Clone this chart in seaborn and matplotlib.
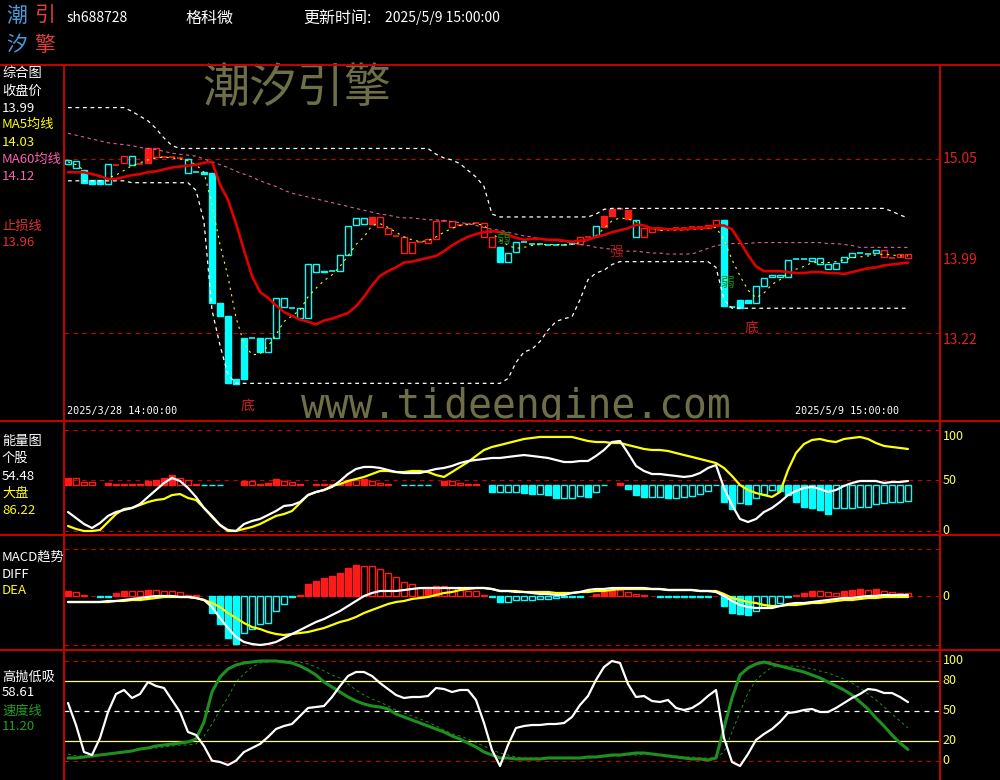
import numpy as np
import matplotlib
matplotlib.use("Agg")
import matplotlib.pyplot as plt
import matplotlib.transforms as mtransforms
from matplotlib.lines import Line2D
import seaborn as sns

sns.set_theme(style="dark", rc={"axes.facecolor": "black", "figure.facecolor": "black"})
plt.rcParams["font.family"] = ["Noto Sans CJK SC", "DejaVu Sans"]
plt.rcParams["axes.unicode_minus"] = False

nan = np.nan

# 60分钟K线 (开盘/收盘), 颜色状态 r=强 c=弱
opens = [15.00, 14.95, 14.93, 14.83, 14.83, 14.79, 14.99, 15.01, 14.99, 15.00,
         15.16, 15.07, 15.07, 15.07, 15.06, 14.90, 14.91, 14.91, 14.90, 13.54,
         13.40, 12.74, 13.17, 13.17, 13.17, 13.02, 13.17, 13.49, 13.48, 13.38,
         13.38, 13.86, 13.86, 13.87, 13.87, 14.04, 14.36, 14.37, 14.44, 14.33,
         14.26, 14.24, 14.06, 14.06, 14.18, 14.17, 14.21, 14.40, 14.33, 14.36,
         14.37, 14.38, 14.23, 14.12, 14.12, 13.97, 14.07, 14.18, 14.16, 14.16,
         14.15, 14.15, 14.15, 14.16, 14.16, 14.23, 14.24, 14.45, 14.52, 14.52,
         14.51, 14.23, 14.23, 14.28, 14.30, 14.31, 14.32, 14.32, 14.33, 14.33,
         14.32, 14.36, 14.41, 13.49, 13.57, 13.57, 13.54, 13.71, 13.81, 13.81,
         13.81, 14.00, 14.00, 13.98, 13.95, 13.89, 13.89, 13.97, 14.02, 14.06,
         14.05, 14.06, 14.02, 14.01, 14.02, 14.01]
closes = [15.04, 15.03, 14.80, 14.79, 14.79, 15.00, 14.99, 15.08, 15.08, 15.00,
          15.01, 15.16, 15.07, 15.07, 15.06, 15.05, 14.91, 14.89, 13.54, 13.40,
          12.69, 12.68, 12.74, 13.17, 13.02, 13.17, 13.59, 13.59, 13.48, 13.48,
          13.94, 13.94, 13.87, 13.87, 14.04, 14.35, 14.43, 14.43, 14.37, 14.44,
          14.32, 14.24, 14.23, 14.18, 14.18, 14.21, 14.40, 14.40, 14.40, 14.36,
          14.37, 14.38, 14.38, 14.23, 13.97, 14.06, 14.18, 14.18, 14.16, 14.16,
          14.15, 14.15, 14.15, 14.16, 14.23, 14.23, 14.34, 14.33, 14.45, 14.52,
          14.42, 14.41, 14.32, 14.32, 14.30, 14.31, 14.32, 14.32, 14.33, 14.33,
          14.36, 14.41, 13.50, 13.49, 13.48, 13.54, 13.71, 13.80, 13.83, 13.83,
          13.99, 14.00, 14.00, 14.01, 14.01, 13.94, 13.96, 14.02, 14.06, 14.06,
          14.05, 14.09, 14.09, 14.01, 14.05, 14.05]
trend = ("ccccccrrcr" "rrrrrccccc" "cccccccccc" "ccccccccrr" "rrrrrrrrrr"
         "rrrrcccccc" "ccccrrcrrr" "rcrrrrrrrr" "rrcccccccc" "cccccccccc" "ccrrrr")

stop_line = [14.91, 14.91, 14.91, 14.89, 14.87, 14.84, 14.84, 14.86, 14.88, 14.89,
             14.91, 14.92, 14.94, 14.96, 14.97, 14.98, 14.99, 15.01, 15.02, 14.78,
             14.62, 14.37, 14.09, 13.82, 13.65, 13.59, 13.51, 13.44, 13.40, 13.36,
             13.34, 13.31, 13.35, 13.37, 13.40, 13.43, 13.50, 13.60, 13.72, 13.82,
             13.87, 13.91, 13.96, 13.97, 13.99, 14.01, 14.03, 14.08, 14.14, 14.19,
             14.23, 14.26, 14.28, 14.29, 14.28, 14.25, 14.22, 14.20, 14.21, 14.21,
             14.20, 14.20, 14.19, 14.18, 14.19, 14.20, 14.23, 14.25, 14.28, 14.30,
             14.32, 14.36, 14.35, 14.32, 14.32, 14.31, 14.31, 14.31, 14.32, 14.32,
             14.33, 14.35, 14.35, 14.31, 14.18, 14.04, 13.92, 13.87, 13.87, 13.87,
             13.86, 13.85, 13.85, 13.86, 13.86, 13.85, 13.85, 13.84, 13.86, 13.88,
             13.90, 13.91, 13.93, 13.94, 13.95, 13.96]
ma5 = [15.02, 14.99, 14.93, 14.89, 14.86, 14.85, 14.88, 14.93, 14.98, 15.01,
       15.04, 15.06, 15.07, 15.06, 15.05, 15.03, 14.99, 14.91, 14.57, 14.15,
       13.81, 13.38, 13.11, 12.99, 13.00, 13.08, 13.20, 13.34, 13.40, 13.46,
       13.60, 13.69, 13.77, 13.83, 13.92, 14.03, 14.15, 14.23, 14.35, 14.37,
       14.33, 14.28, 14.23, 14.20, 14.18, 14.19, 14.23, 14.28, 14.32, 14.35,
       14.36, 14.37, 14.35, 14.27, 14.20, 14.14, 14.11, 14.12, 14.14, 14.15,
       14.15, 14.15, 14.15, 14.15, 14.17, 14.20, 14.24, 14.32, 14.40, 14.43,
       14.42, 14.39, 14.35, 14.32, 14.30, 14.30, 14.30, 14.30, 14.31, 14.31,
       14.32, 14.33, 14.20, 13.99, 13.82, 13.67, 13.59, 13.64, 13.73, 13.78,
       13.85, 13.89, 13.92, 13.96, 13.96, 13.96, 13.97, 13.99, 14.01, 14.02,
       14.03, 14.04, 14.05, 14.04, 14.03, 14.03]
ma60 = [15.32, 15.30, 15.28, 15.26, 15.24, 15.22, 15.21, 15.20, 15.19, 15.17,
        15.16, 15.15, 15.13, 15.11, 15.10, 15.09, 15.08, 15.05, 15.02, 14.99,
        14.96, 14.92, 14.89, 14.86, 14.82, 14.79, 14.76, 14.72, 14.69, 14.67,
        14.65, 14.63, 14.61, 14.59, 14.57, 14.55, 14.53, 14.51, 14.49, 14.47,
        14.46, 14.44, 14.43, 14.43, 14.42, 14.41, 14.41, 14.40, 14.39, 14.38,
        14.37, 14.35, 14.33, 14.31, 14.30, 14.28, 14.26, 14.24, 14.23, 14.21,
        14.20, 14.19, 14.18, 14.17, 14.15, 14.14, 14.12, 14.11, 14.10, 14.09,
        14.08, 14.08, 14.07, 14.06, 14.06, 14.05, 14.05, 14.05, 14.05, 14.08,
        14.11, 14.14, 14.15, 14.16, 14.16, 14.16, 14.17, 14.17, 14.17, 14.17,
        14.17, 14.17, 14.17, 14.17, 14.17, 14.16, 14.16, 14.15, 14.14, 14.12,
        14.12, 14.12, 14.12, 14.12, 14.12, 14.12]
upper_band = [15.59, 15.59, 15.59, 15.59, 15.59, 15.59, 15.59, 15.59, 15.55, 15.50,
              15.45, 15.37, 15.27, 15.19, 15.16, 15.16, 15.16, 15.16, 15.16, 15.16,
              15.16, 15.16, 15.16, 15.16, 15.16, 15.16, 15.16, 15.16, 15.16, 15.16,
              15.16, 15.16, 15.16, 15.16, 15.16, 15.16, 15.16, 15.16, 15.16, 15.16,
              15.16, 15.16, 15.16, 15.16, 15.16, 15.16, 15.10, 15.06, 15.04, 15.00,
              14.93, 14.86, 14.76, 14.47, 14.44, 14.44, 14.44, 14.44, 14.44, 14.44,
              14.44, 14.44, 14.44, 14.44, 14.44, 14.44, 14.47, 14.52, 14.53, 14.53,
              14.53, 14.53, 14.53, 14.53, 14.53, 14.53, 14.53, 14.53, 14.53, 14.53,
              14.53, 14.53, 14.53, 14.53, 14.53, 14.53, 14.53, 14.53, 14.53, 14.53,
              14.53, 14.53, 14.53, 14.53, 14.53, 14.53, 14.53, 14.53, 14.53, 14.53,
              14.53, 14.53, 14.53, 14.50, 14.46, 14.43]
lower_band = [14.82, 14.82, 14.82, 14.82, 14.82, 14.82, 14.82, 14.82, 14.80, 14.80,
              14.80, 14.80, 14.80, 14.80, 14.80, 14.80, 14.72, 14.39, 13.46, 13.09,
              12.78, 12.69, 12.69, 12.69, 12.69, 12.69, 12.69, 12.69, 12.69, 12.69,
              12.69, 12.69, 12.69, 12.69, 12.69, 12.69, 12.69, 12.69, 12.69, 12.69,
              12.69, 12.69, 12.69, 12.69, 12.69, 12.69, 12.69, 12.69, 12.69, 12.69,
              12.69, 12.69, 12.69, 12.69, 12.69, 12.74, 12.91, 13.02, 13.05, 13.13,
              13.25, 13.34, 13.37, 13.39, 13.57, 13.78, 13.85, 13.88, 13.94, 13.97,
              13.97, 13.97, 13.97, 13.97, 13.97, 13.97, 13.97, 13.97, 13.97, 13.97,
              13.97, 13.91, 13.57, 13.48, 13.48, 13.48, 13.48, 13.48, 13.48, 13.48,
              13.48, 13.48, 13.48, 13.48, 13.48, 13.48, 13.48, 13.48, 13.48, 13.48,
              13.48, 13.48, 13.48, 13.48, 13.48, 13.48]

# 能量图
energy_stock = [18.8, 12.9, 6.9, 3.0, 7.9, 14.9, 18.8, 20.8, 22.8, 26.7,
                33.7, 40.6, 47.5, 52.5, 49.5, 42.6, 33.7, 22.8, 14.9, 5.9,
                1.0, 0.0, 6.9, 9.9, 11.9, 15.8, 19.8, 24.8, 25.7, 28.7,
                35.6, 38.6, 40.6, 43.6, 49.5, 56.4, 61.4, 63.4, 63.4, 62.4,
                60.4, 58.4, 57.4, 57.4, 57.4, 59.4, 61.4, 62.4, 64.4, 67.3,
                69.3, 70.3, 71.3, 72.3, 72.3, 73.3, 74.3, 75.2, 74.3, 73.3,
                72.3, 70.3, 68.3, 68.3, 69.3, 69.3, 74.3, 80.2, 88.1, 89.1,
                77.2, 64.4, 59.4, 56.4, 56.4, 55.4, 54.5, 53.5, 54.5, 57.4,
                62.4, 65.3, 42.6, 25.7, 11.9, 8.9, 11.9, 18.8, 22.8, 28.7,
                35.6, 39.6, 42.6, 43.6, 41.6, 38.6, 40.6, 44.6, 47.5, 49.5,
                49.5, 49.5, 47.5, 48.5, 48.5, 49.5]
energy_market = [5.0, 2.0, 0.0, 0.0, 1.0, 8.9, 16.8, 21.8, 22.8, 25.7,
                 28.7, 30.7, 31.7, 35.6, 36.6, 32.7, 30.7, 22.8, 13.9, 5.9,
                 0.0, 0.0, 2.0, 4.0, 6.9, 10.9, 14.9, 16.8, 19.8, 27.7,
                 35.6, 38.6, 40.6, 44.6, 46.5, 49.5, 51.5, 53.5, 56.4, 59.4,
                 59.4, 58.4, 58.4, 59.4, 59.4, 58.4, 55.4, 53.5, 58.4, 63.4,
                 68.3, 74.3, 80.2, 83.2, 85.1, 87.1, 89.1, 91.1, 92.1, 93.1,
                 93.1, 93.1, 93.1, 93.1, 91.1, 89.1, 88.1, 88.1, 87.1, 87.1,
                 85.1, 83.2, 81.2, 80.2, 80.2, 79.2, 77.2, 75.2, 73.3, 71.3,
                 69.3, 67.3, 62.4, 54.5, 45.5, 40.6, 37.6, 35.6, 33.7, 38.6,
                 60.4, 77.2, 86.1, 90.1, 91.1, 89.1, 88.1, 91.1, 92.1, 93.1,
                 91.1, 87.1, 84.2, 83.2, 82.2, 81.2]
energy_bar = [52.5, 52.5, 48.5, 48.5, nan, 47.5, 46.5, 46.5, 46.5, 46.5,
              49.5, 50.5, 52.5, 55.4, 52.5, 50.5, 46.5, 45.5, 45.5, 45.5,
              nan, nan, 49.5, 49.5, 46.5, 47.5, 51.5, 49.5, 48.5, 46.5,
              nan, 46.5, 46.5, 46.5, 47.0, 50.5, 50.5, 51.5, 49.5, 47.5,
              46.5, nan, 45.5, 45.5, 45.5, 45.5, nan, 49.5, 49.5, 47.5,
              46.5, 46.5, nan, 39.0, 39.0, 39.0, 39.0, 37.3, 36.3, 36.3,
              35.6, 33.0, 33.0, 33.0, 35.0, 34.0, 38.3, 45.5, nan, 47.5,
              41.6, 35.6, 34.0, 34.0, 34.0, 33.0, 33.0, 34.0, 35.0, 36.3,
              39.6, 45.5, 29.0, 21.8, 27.4, 26.4, 32.4, 36.3, 40.6, 39.6,
              35.6, 28.4, 24.0, 23.1, 20.8, 16.8, 22.4, 22.4, 23.1, 24.0,
              24.0, 26.4, 27.4, 28.4, 28.4, 29.7]
ENERGY_BASE = 46

# MACD趋势
diff = [-0.030, -0.030, -0.030, -0.030, -0.030, -0.025, -0.025, -0.020, -0.015, -0.010,
        -0.005, 0.000, 0.000, 0.000, -0.005, -0.005, -0.010, -0.020, -0.055, -0.110,
        -0.160, -0.205, -0.230, -0.240, -0.245, -0.240, -0.230, -0.210, -0.190, -0.170,
        -0.150, -0.130, -0.115, -0.095, -0.075, -0.050, -0.025, 0.000, 0.015, 0.025,
        0.025, 0.025, 0.030, 0.035, 0.040, 0.040, 0.040, 0.040, 0.040, 0.040,
        0.040, 0.040, 0.040, 0.035, 0.025, 0.025, 0.020, 0.020, 0.015, 0.010,
        0.010, 0.005, 0.005, 0.015, 0.020, 0.030, 0.035, 0.035, 0.040, 0.040,
        0.040, 0.040, 0.040, 0.035, 0.035, 0.030, 0.030, 0.030, 0.030, 0.025,
        0.025, 0.020, 0.000, -0.025, -0.045, -0.055, -0.060, -0.060, -0.060, -0.050,
        -0.040, -0.035, -0.035, -0.030, -0.025, -0.020, -0.015, -0.010, -0.010, -0.005,
        0.000, 0.000, 0.005, 0.005, 0.005, 0.005]
dea = [-0.030, -0.030, -0.030, -0.030, -0.030, -0.030, -0.025, -0.025, -0.020, -0.020,
       -0.015, -0.010, -0.005, -0.005, -0.005, -0.005, -0.010, -0.020, -0.035, -0.055,
       -0.085, -0.110, -0.135, -0.155, -0.165, -0.180, -0.190, -0.195, -0.190, -0.185,
       -0.180, -0.170, -0.160, -0.145, -0.130, -0.120, -0.105, -0.085, -0.070, -0.055,
       -0.040, -0.030, -0.025, -0.015, -0.010, -0.005, 0.005, 0.015, 0.020, 0.030,
       0.035, 0.040, 0.040, 0.035, 0.025, 0.025, 0.025, 0.020, 0.020, 0.020,
       0.020, 0.015, 0.015, 0.015, 0.020, 0.020, 0.025, 0.025, 0.030, 0.035,
       0.035, 0.035, 0.035, 0.035, 0.035, 0.030, 0.030, 0.030, 0.030, 0.025,
       0.025, 0.025, 0.010, -0.010, -0.020, -0.030, -0.035, -0.045, -0.050, -0.050,
       -0.045, -0.045, -0.040, -0.035, -0.035, -0.030, -0.025, -0.020, -0.020, -0.015,
       -0.010, -0.010, -0.005, -0.005, -0.005, -0.005]
macd_bar = [0.025, 0.020, 0.005, nan, -0.005, -0.005, 0.015, 0.025, 0.025, 0.025,
            0.030, 0.030, 0.025, 0.025, 0.020, 0.005, 0.005, nan, -0.085, -0.140,
            -0.210, -0.240, -0.185, -0.165, -0.140, -0.135, -0.075, -0.040, -0.005, 0.005,
            0.060, 0.075, 0.090, 0.100, 0.115, 0.140, 0.155, 0.150, 0.150, 0.135,
            0.115, 0.095, 0.070, 0.060, 0.040, 0.045, 0.050, 0.050, 0.040, 0.030,
            0.025, 0.025, 0.005, -0.005, -0.030, -0.030, -0.020, -0.020, -0.020, -0.015,
            -0.015, -0.012, -0.005, -0.005, -0.005, nan, 0.010, 0.022, 0.030, 0.030,
            0.018, 0.010, 0.005, nan, -0.005, -0.005, -0.005, -0.005, -0.005, -0.005,
            -0.005, nan, -0.050, -0.085, -0.090, -0.095, -0.075, -0.055, -0.050, -0.035,
            -0.005, 0.005, 0.017, 0.025, 0.025, 0.022, 0.017, 0.025, 0.028, 0.033,
            0.028, 0.033, 0.025, 0.022, 0.017, 0.017]

# 高抛低吸
gpdx = [57.7, 35.7, 8.7, 5.7, 22.7, 48.7, 66.7, 70.7, 62.7, 66.7,
        78.7, 74.7, 72.7, 60.7, 48.7, 28.7, 25.7, 14.7, 0.0, -1.3,
        -4.3, 0.0, 8.7, 12.7, 16.7, 23.7, 31.7, 34.7, 36.7, 44.7,
        52.7, 53.7, 54.7, 63.7, 74.7, 84.7, 88.7, 88.7, 84.7, 77.7,
        71.7, 65.7, 62.7, 63.7, 63.7, 64.7, 72.7, 71.7, 68.7, 70.7,
        70.7, 60.7, 37.7, 10.7, -5.3, 15.7, 32.7, 34.7, 35.7, 35.7,
        36.7, 36.7, 37.7, 43.7, 55.7, 64.7, 80.7, 93.7, 99.7, 97.7,
        76.7, 63.7, 64.7, 59.7, 58.7, 60.7, 52.7, 50.7, 52.7, 57.7,
        64.7, 70.7, 22.7, -1.3, -5.3, 6.7, 20.7, 26.7, 31.7, 38.7,
        47.7, 48.7, 50.7, 51.7, 48.7, 48.7, 52.7, 57.7, 62.7, 66.7,
        71.7, 70.7, 67.7, 67.7, 63.7, 58.6]
speed = [2.7, 2.7, 3.7, 4.7, 5.7, 6.7, 7.7, 8.7, 9.7, 11.7,
         12.7, 14.7, 15.7, 16.7, 17.7, 18.7, 21.7, 38.7, 68.7, 83.7,
         91.7, 95.7, 97.7, 98.7, 99.7, 99.7, 99.7, 98.7, 97.7, 94.7,
         90.7, 85.7, 78.7, 73.7, 68.7, 63.7, 59.7, 56.7, 54.7, 53.7,
         51.7, 46.7, 43.7, 40.7, 37.7, 34.7, 31.7, 28.7, 24.7, 21.7,
         17.7, 13.7, 8.7, 5.7, 2.7, 2.7, 1.7, 1.7, 1.7, 1.7,
         2.7, 2.7, 2.7, 2.7, 2.7, 3.7, 3.7, 4.7, 5.7, 5.7,
         6.7, 7.7, 7.7, 6.7, 5.7, 4.7, 3.7, 2.7, 1.7, 1.7,
         0.7, 2.7, 32.7, 62.7, 85.7, 92.7, 96.7, 98.7, 96.7, 94.7,
         92.7, 90.7, 88.7, 85.7, 82.7, 78.7, 74.7, 70.7, 65.7, 58.7,
         51.7, 42.7, 34.7, 25.7, 17.7, 11.2]
speed_signal = [6.7, 4.7, 4.7, 5.7, 5.7, 6.7, 7.7, 8.7, 9.7, 10.7,
                11.7, 12.7, 13.7, 14.7, 15.7, 15.7, 16.7, 24.7, 36.7, 50.7,
                63.7, 78.7, 86.7, 93.7, 97.7, 98.7, 99.7, 99.7, 99.7, 98.7,
                96.7, 93.7, 89.7, 85.7, 82.7, 76.7, 70.7, 65.7, 61.7, 58.7,
                54.7, 50.7, 47.7, 44.7, 41.7, 38.7, 34.7, 30.7, 26.7, 24.7,
                21.7, 17.7, 14.7, 10.7, 7.7, 5.7, 3.7, 2.7, 2.7, 2.7,
                2.7, 2.7, 2.7, 2.7, 2.7, 2.7, 3.7, 3.7, 4.7, 4.7,
                5.7, 5.7, 6.7, 6.7, 5.7, 5.7, 4.7, 3.7, 3.7, 2.7,
                2.7, 2.7, 8.7, 28.7, 48.7, 67.7, 80.7, 87.7, 93.7, 94.7,
                94.7, 94.7, 93.7, 91.7, 89.7, 87.7, 84.7, 81.7, 77.7, 72.7,
                66.7, 60.7, 53.7, 46.7, 39.7, 32.7]

price_marks = [15.05, 13.22]
idx = np.arange(len(opens))

# 颜色
RED = "#ff1a1a"
DARKRED = "#c80000"
CYAN = "#00ffff"
YELLOW = "#ffff00"
PINK = "#d8609c"
GREEN = "#1f8f1f"
OLIVE = "#6e6e48"

W, H = 1000, 780
fig = plt.figure(figsize=(W / 100, H / 100), dpi=100, facecolor="black")


def panel(top, bottom):
    ax = fig.add_axes([64 / W, 1 - bottom / H, 876 / W, (bottom - top) / H])
    ax.set_facecolor("black")
    return ax


def finish(ax, ylim):
    ax.set_xlim(-0.5, 109)
    ax.set_ylim(*ylim)
    ax.set_xticks([])
    ax.set_yticks([])
    ax.set_xlabel("")
    ax.set_ylabel("")
    ax.grid(False)
    for s in ax.spines.values():
        s.set_visible(False)


def ftext(x, y, s, **kw):
    kw.setdefault("va", "center")
    fig.text(x / W, 1 - y / H, s, **kw)


def rlabel(ax, val, s, color, va="center", size=9):
    tr = mtransforms.blended_transform_factory(ax.transAxes, ax.transData)
    ax.text(1.003, val, s, transform=tr, color=color, fontsize=size,
            va=va, ha="left", clip_on=False)


def hist_bars(ax, vals, base, up_col, dn_col):
    prev = 0.0
    for i, v in enumerate(vals):
        if np.isnan(v):
            prev = 0.0
            continue
        h = v - base
        col = up_col if h > 0 else dn_col
        filled = abs(h) > prev
        ax.bar(i, h, bottom=base, width=0.72, color=col if filled else "none",
               edgecolor=col, linewidth=1, zorder=2)
        prev = abs(h)


dash_red = dict(color=DARKRED, lw=0.8, ls=(0, (4, 4)))

# ---------------- 综合图 ----------------
ax_k = panel(65, 421)
ax_k.text(297 / W, 1 - 89 / H, "潮汐引擎", transform=fig.transFigure, fontsize=34,
          color=OLIVE, ha="center", va="center", zorder=0.5)
ax_k.text(516 / W, 1 - 407 / H, "www.tideengine.com", transform=fig.transFigure,
          fontsize=28.5, color=OLIVE, ha="center", va="center", zorder=0.5,
          family="DejaVu Sans Mono")
for p in price_marks:
    ax_k.axhline(p, **dash_red, zorder=1)

for i, (o, c, t) in enumerate(zip(opens, closes, trend)):
    col = RED if t == "r" else CYAN
    if abs(c - o) < 1e-9:
        ax_k.hlines(o, i - 0.36, i + 0.36, color=col, lw=1.2, zorder=2)
    else:
        filled = c < o
        ax_k.bar(i, c - o, bottom=o, width=0.72, color=col if filled else "none",
                 edgecolor=col, linewidth=1, zorder=2)

sns.lineplot(x=idx, y=upper_band, ax=ax_k, color="white", linewidth=0.9,
             linestyle=(0, (3, 3)), zorder=3)
sns.lineplot(x=idx, y=lower_band, ax=ax_k, color="white", linewidth=0.9,
             linestyle=(0, (3, 3)), zorder=3)
sns.lineplot(x=idx, y=ma60, ax=ax_k, color=PINK, linewidth=0.8,
             linestyle=(0, (3, 3)), zorder=3)
sns.lineplot(x=idx, y=ma5, ax=ax_k, color=YELLOW, linewidth=0.8,
             linestyle=(0, (2, 4)), zorder=3)
sns.lineplot(x=idx, y=stop_line, ax=ax_k, color="#e00000", linewidth=1.9, zorder=4)

ax_k.text(22.4, 12.45, "底", color="#d02020", fontsize=10, ha="center", va="center", zorder=5)
ax_k.text(85.4, 13.27, "底", color="#d02020", fontsize=10, ha="center", va="center", zorder=5)
ax_k.text(68.5, 14.07, "强", color="#b01818", fontsize=10, ha="center", va="center", zorder=5)
ax_k.text(54.4, 14.21, "弱", color="#118811", fontsize=10, ha="center", va="center", zorder=5)
ax_k.text(82.4, 13.75, "弱", color="#118811", fontsize=10, ha="center", va="center", zorder=5)

rlabel(ax_k, 15.05, "15.05", "#e02020", size=10)
rlabel(ax_k, 13.99, "13.99", "#e02020", size=10)
rlabel(ax_k, 13.22, "13.22", "#e02020", va="top", size=10)
finish(ax_k, (12.294, 16.038))

# ---------------- 能量图 ----------------
ax_e = panel(421, 535)
for v in (100, 50, 0):
    ax_e.axhline(v, **dash_red, zorder=1)
hist_bars(ax_e, energy_bar, ENERGY_BASE, RED, CYAN)
sns.lineplot(x=idx, y=energy_market, ax=ax_e, color=YELLOW, linewidth=1.6, zorder=3)
sns.lineplot(x=idx, y=energy_stock, ax=ax_e, color="white", linewidth=1.6, zorder=4)
rlabel(ax_e, 100, "100", "#ffff60", va="top")
rlabel(ax_e, 50, "50", "#ffff60")
rlabel(ax_e, 0, "0", "#ffff60")
finish(ax_e, (-3.96, 108.9))

# ---------------- MACD趋势 ----------------
ax_m = panel(535, 650)
for v in (0.235, 0.0, -0.245):
    ax_m.axhline(v, **dash_red, zorder=1)
hist_bars(ax_m, macd_bar, 0.0, RED, CYAN)
sns.lineplot(x=idx, y=dea, ax=ax_m, color=YELLOW, linewidth=1.6, zorder=3)
sns.lineplot(x=idx, y=diff, ax=ax_m, color="white", linewidth=1.6, zorder=4)
rlabel(ax_m, 0.0, "0", "#ffff60")
finish(ax_m, (-0.27, 0.305))

# ---------------- 高抛低吸 ----------------
ax_g = panel(650, 780)
ax_g.axhline(100, **dash_red, zorder=1)
ax_g.axhline(0, **dash_red, zorder=1)
ax_g.axhline(80, color="#ffff70", lw=0.9, zorder=1)
ax_g.axhline(20, color="#ffff70", lw=0.9, zorder=1)
ax_g.axhline(50, color="white", lw=0.9, ls=(0, (4, 4)), zorder=1)
sns.lineplot(x=idx, y=speed_signal, ax=ax_g, color=GREEN, linewidth=0.7,
             linestyle=(0, (3, 3)), zorder=2)
sns.lineplot(x=idx, y=speed, ax=ax_g, color=GREEN, linewidth=2.2, zorder=3)
sns.lineplot(x=idx, y=gpdx, ax=ax_g, color="white", linewidth=1.6, zorder=4)
for v in (100, 80, 50, 20, 0):
    rlabel(ax_g, v, str(v), "#ffff60")
finish(ax_g, (-19.3, 110.7))

# ---------------- 边框 ----------------
for y in (65, 421, 535, 650):
    fig.add_artist(Line2D([0, 1], [1 - y / H, 1 - y / H], transform=fig.transFigure,
                          color=DARKRED, lw=1.4))
for x in (64, 940):
    fig.add_artist(Line2D([x / W, x / W], [1 - 65 / H, 0], transform=fig.transFigure,
                          color=DARKRED, lw=1.4))

# ---------------- 文字 ----------------
ftext(17, 16, "潮", color="#4a9ad8", fontsize=15, ha="center")
ftext(45, 16, "引", color="#e04040", fontsize=15, ha="center")
ftext(17, 45, "汐", color="#4a9ad8", fontsize=15, ha="center")
ftext(45, 45, "擎", color="#e04040", fontsize=15, ha="center")
ftext(67, 18, "sh688728", color="white", fontsize=10)
ftext(185, 18, "格科微", color="white", fontsize=11.5)
ftext(303, 18, "更新时间:", color="white", fontsize=11.5)
ftext(385, 18, "2025/5/9 15:00:00", color="white", fontsize=10)

ftext(67, 411, "2025/3/28 14:00:00", color="white", fontsize=7.3, family="DejaVu Sans Mono")
ftext(795, 411, "2025/5/9 15:00:00", color="white", fontsize=7.3, family="DejaVu Sans Mono")

left_labels = [
    ("综合图", 73, "white"), ("收盘价", 91, "white"), ("13.99", 108, "white"),
    ("MA5均线", 124, YELLOW), ("14.03", 142, YELLOW),
    ("MA60均线", 159, "#ff60b0"), ("14.12", 176, "#ff60b0"),
    ("止损线", 226, "#e03030"), ("13.96", 243, "#e03030"),
    ("能量图", 441, "white"), ("个股", 458, "white"), ("54.48", 476, "white"),
    ("大盘", 493, YELLOW), ("86.22", 510, YELLOW),
    ("MACD趋势", 557, "white"), ("DIFF", 574, "white"), ("DEA", 591, YELLOW),
    ("高抛低吸", 677, "white"), ("58.61", 693, "white"),
    ("速度线", 711, "#20a020"), ("11.20", 727, "#20a020"),
]
for s, y, c in left_labels:
    ftext(2, y, s, color=c, fontsize=9.5)

fig.savefig("out.png", dpi=100, facecolor="black")
